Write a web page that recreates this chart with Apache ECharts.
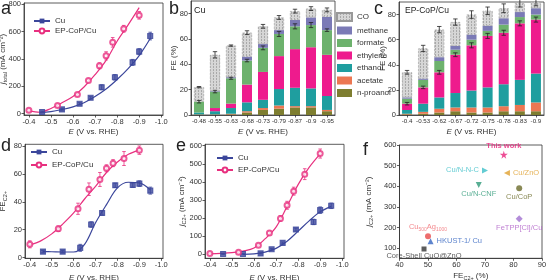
<!DOCTYPE html>
<html>
<head>
<meta charset="utf-8">
<script src="https://cdn.jsdelivr.net/npm/echarts@6/dist/echarts.min.js"></script>
<style>
html,body{margin:0;padding:0;background:#fff}
#main{width:546px;height:280px}
</style>
</head>
<body>
<div id="main"></div>
<script>
// ---- data ----
// a / d / e : potentials
const eCu = [-0.46, -0.55, -0.63, -0.68, -0.73, -0.79, -0.87, -0.90, -0.95]
const eEp = [-0.40, -0.53, -0.62, -0.67, -0.72, -0.75, -0.78, -0.83, -0.90]

// a: j total
const jTotCu = [12, 31, 72, 116, 193, 266, 375, 454, 568]
const jTotCuErr = [6, 6, 8, 8, 18, 20, 22, 22, 28]
const jTotEp = [24, 60, 140, 242, 350, 423, 522, 621, 720]
const jTotEpErr = [8, 10, 10, 10, 22, 30, 35, 25, 28]
const fitE_aCu = [-0.45, -0.5, -0.55, -0.6, -0.65, -0.7, -0.75, -0.8, -0.85, -0.9, -0.95]
const fitJ_aCu = [8, 15, 30, 50, 80, 125, 180, 250, 330, 425, 550]
const fitE_aEp = [-0.40, -0.45, -0.5, -0.55, -0.6, -0.65, -0.7, -0.75, -0.8, -0.85, -0.9]
const fitJ_aEp = [20, 10, 38, 80, 125, 195, 285, 390, 530, 650, 776]

// b: FE on Cu
const catB = ['-0.48', '-0.55', '-0.63', '-0.68', '-0.73', '-0.79', '-0.87', '-0.9', '-0.95']
const bNpro = [0.3, 0.3, 0.5, 2, 4, 5, 6, 6, 3]
const bAcet = [0.2, 0.2, 0.5, 1, 1.5, 2.5, 1, 1, 1]
const bEthanol = [1.5, 2.5, 4.5, 7, 6.5, 13, 14.5, 14, 11]
const bEthylene = [0, 2.5, 3.5, 14, 22, 26, 30.5, 32.5, 32.5]
const bFormate = [8.5, 13, 20, 19, 19, 17.5, 18, 17.5, 19.5]
const bMethane = [0, 0.5, 0.8, 3, 3, 3, 5, 6, 10.5]
const bCO = [11.5, 28.5, 25, 19, 14, 10, 7, 7, 5.5]
const bTotErr = [0.5, 2.5, 0.5, 1.5, 1.5, 1.5, 1.5, 1.5, 1.5]
const bFormErr = [1, 1, 0.8, 1, 1.5, 2, 2, 2, 1]

// c: FE on EP-CoP/Cu
const catC = ['-0.4', '-0.53', '-0.62', '-0.67', '-0.72', '-0.75', '-0.78', '-0.83', '-0.9']
const cNpro = [0.5, 1, 2, 3, 2, 2, 3, 3, 3]
const cAcet = [0.5, 1.5, 3, 3, 4, 4, 4, 5, 7]
const cEthanol = [3, 6.5, 9, 11.5, 13.5, 16, 17.5, 20, 23]
const cEthylene = [5, 13, 20, 30.5, 36, 41, 41, 45, 43]
const cFormate = [4, 6, 9, 4, 4.5, 4, 6.5, 5, 4]
const cMethane = [1, 1, 3, 3, 4, 4, 5, 4, 5]
const cCO = [20, 24, 22, 19, 16, 12, 8, 7, 5]
const cTotErr = [1.5, 2.5, 2.5, 2.5, 3, 3, 3.5, 3, 3]
const cEthyErr = [1, 1, 1.5, 1.5, 2, 2, 2, 2, 2]

// d: FE C2+
const fecCu = [4.3, 4.3, 7, 23.7, 32, 51.8, 52, 53, 48]
const fecCuErr = [0.8, 0.8, 2.5, 2, 1.5, 1.5, 1.5, 2, 2.5]
const fecEp = [9.5, 20.7, 35, 49, 56, 64, 67.7, 71, 77]
const fecEpErr = [2.5, 2, 4, 4.5, 5, 2.5, 2.5, 5, 3]
const fitE_dCu = [-0.46, -0.5, -0.55, -0.6, -0.65, -0.7, -0.75, -0.8, -0.85, -0.9, -0.95]
const fitF_dCu = [4.3, 4.2, 4.0, 4.0, 9.5, 25, 38, 50, 54, 53.5, 48.5]
const fitE_dEp = [-0.40, -0.45, -0.5, -0.55, -0.6, -0.65, -0.7, -0.75, -0.8, -0.85, -0.9]
const fitF_dEp = [9, 12, 17, 24, 32, 42, 51, 61, 68.5, 74, 77]

// e: j C2+
const jcCu = [2, 2, 5, 28, 63, 137, 179, 244, 268]
const jcCuErr = [2, 2, 3, 4, 5, 8, 15, 18, 15]
const jcEp = [5, 11, 50, 118, 198, 271, 349, 443, 557]
const jcEpErr = [3, 5, 5, 10, 15, 22, 22, 30, 25]
const fitE_eCu = [-0.55, -0.6, -0.65, -0.7, -0.75, -0.8, -0.85, -0.9, -0.95]
const fitJ_eCu = [0, 2, 12, 33, 72, 128, 185, 235, 265]
const fitE_eEp = [-0.40, -0.45, -0.5, -0.55, -0.6, -0.65, -0.7, -0.75, -0.8, -0.85, -0.9]
const fitJ_eEp = [3, 5, 9, 18, 35, 85, 150, 265, 385, 480, 555]

// f: comparison with literature
const refNames = ['This work', 'Cu/N-N-C', 'Cu/ZnO', 'Cu/N-CNF', 'Cu/CoP', 'FeTPP[Cl]/Cu', 'CuAg', 'HKUST-1/ Cu', 'Core-Shell CuO@ZnO']
const refFE = [76.6, 70.0, 77.7, 67.8, 82.0, 82.0, 50.0, 50.9, 48.6]
const refJ = [553, 477, 465, 407, 391, 243, 159, 135, 97]

// tick labels
const ticksE = [-0.4, -0.5, -0.6, -0.7, -0.8, -0.9, -1.0]
const ticksA = [0, 200, 400, 600, 800]
const ticksFE = [0, 20, 40, 60, 80]
const ticksE_j = [0, 100, 200, 300, 400, 500, 600]
const ticksF_x = [40, 50, 60, 70, 80, 90]
const ticksF_y = [100, 200, 300, 400, 500, 600]

// ---- styling ----
const FONT = 'Liberation Sans'
const AX = '#333'
const CU = '#3b469b'
const EP = '#e8307f'
const STAR = 'path://M50,0 L61,35 L98,35 L68,57 L79,91 L50,70 L21,91 L32,57 L2,35 L39,35 Z'

// dotted grey fill for CO
const pc = document.createElement('canvas')
pc.width = 3; pc.height = 3
const pctx = pc.getContext('2d')
pctx.fillStyle = '#d6d6d6'; pctx.fillRect(0, 0, 3, 3)
pctx.fillStyle = '#a9a9a9'; pctx.fillRect(0, 0, 1, 2)

const layerColors = {
  'n-proanol': '#7e7e30', acetate: '#ec7752', ethanol: '#1f9e9f', ethylene: '#ee1b8d',
  formate: '#6db26d', methane: '#7b7ab6', CO: { image: pc, repeat: 'repeat' }
}

const nameStyle = {
  fontSize: 8, fontFamily: FONT, color: AX, lineHeight: 11,
  rich: {
    i: { fontStyle: 'italic', fontSize: 8, fontFamily: FONT, color: AX, lineHeight: 11 },
    s: { fontSize: 5.5, fontFamily: FONT, color: AX, lineHeight: 6, verticalAlign: 'bottom' }
  }
}

function valAxis(gi, min, max, ticks, fmt, extra) {
  return Object.assign({
    type: 'value', gridIndex: gi, min: min, max: max,
    axisLine: { show: true, onZero: false, lineStyle: { color: AX, width: 0.8 } },
    axisTick: { show: true, length: 2.5, customValues: ticks, lineStyle: { color: AX, width: 0.8 } },
    axisLabel: { fontSize: 7.5, fontFamily: FONT, color: AX, margin: 3, customValues: ticks, formatter: fmt },
    splitLine: { show: false },
    nameLocation: 'middle', nameMoveOverlap: false, nameTextStyle: nameStyle
  }, extra || {})
}

function catAxis(gi, cats, extra) {
  return Object.assign({
    type: 'category', gridIndex: gi, data: cats,
    axisLine: { show: true, lineStyle: { color: AX, width: 0.8 } },
    axisTick: { show: true, length: 2.5, alignWithLabel: true, lineStyle: { color: AX, width: 0.8 } },
    axisLabel: { fontSize: 6.2, fontFamily: FONT, color: AX, margin: 3, interval: 0 },
    nameLocation: 'middle', nameMoveOverlap: false, nameTextStyle: nameStyle
  }, extra || {})
}

const fmtE = v => v.toFixed(1)
const fmtN = v => String(v)
const eName = '{i|E} (V vs. RHE)'

function errSeries(gi, xs, ys, es, color, cap) {
  return {
    type: 'custom', xAxisIndex: gi, yAxisIndex: gi, silent: true, z: 6,
    data: xs.map((x, i) => [x, ys[i], es[i]]),
    renderItem: (p, api) => {
      const x = api.value(0), y = api.value(1), e = api.value(2)
      const t = api.coord([x, y + e]), b = api.coord([x, y - e])
      const st = { stroke: color, lineWidth: 0.8 }
      return {
        type: 'group', children: [
          { type: 'line', shape: { x1: t[0], y1: t[1], x2: b[0], y2: b[1] }, style: st },
          { type: 'line', shape: { x1: t[0] - cap, y1: t[1], x2: t[0] + cap, y2: t[1] }, style: st },
          { type: 'line', shape: { x1: b[0] - cap, y1: b[1], x2: b[0] + cap, y2: b[1] }, style: st }
        ]
      }
    }
  }
}

function fitSeries(gi, name, xs, ys, color, symbol) {
  return {
    type: 'line', name: name, xAxisIndex: gi, yAxisIndex: gi,
    data: xs.map((x, i) => [x, ys[i]]), smooth: 0.35, showSymbol: false,
    symbol: symbol, symbolSize: 5, silent: true, z: 3,
    lineStyle: { color: color, width: 1.2 }, itemStyle: { color: color, borderWidth: 1.1 }
  }
}

function ptSeries(gi, xs, ys, color, symbol) {
  return {
    type: 'scatter', xAxisIndex: gi, yAxisIndex: gi, symbol: symbol, symbolSize: 5, z: 7,
    data: xs.map((x, i) => [x, ys[i]]),
    itemStyle: { color: color, borderColor: color, borderWidth: 1.1 }
  }
}

function curvePanel(gi, cuY, cuE, epY, epE, fitCu, fitEp) {
  return [
    fitSeries(gi, 'Cu', fitCu[0], fitCu[1], CU, 'rect'),
    fitSeries(gi, 'EP-CoP/Cu', fitEp[0], fitEp[1], EP, 'emptyCircle'),
    errSeries(gi, eCu, cuY, cuE, CU, 1.8),
    errSeries(gi, eEp, epY, epE, EP, 1.8),
    ptSeries(gi, eCu, cuY, CU, 'rect'),
    ptSeries(gi, eEp, epY, EP, 'emptyCircle')
  ]
}

function barPanel(gi, stack, layers) {
  const out = []
  const names = ['n-proanol', 'acetate', 'ethanol', 'ethylene', 'formate', 'methane', 'CO']
  names.forEach((n, k) => {
    const s = {
      type: 'bar', name: n, stack: stack, xAxisIndex: gi, yAxisIndex: gi,
      barWidth: 10, data: layers[k], itemStyle: { color: layerColors[n] }
    }
    if (n === 'CO') s.itemStyle = { color: layerColors[n], borderColor: '#999', borderWidth: 0.6, borderType: 'dashed' }
    out.push(s)
  })
  return out
}

function cum(layers, upto) {
  return layers[0].map((_, i) => {
    let s = 0
    for (let k = 0; k <= upto; k++) s += layers[k][i]
    return s
  })
}

const bLayers = [bNpro, bAcet, bEthanol, bEthylene, bFormate, bMethane, bCO]
const cLayers = [cNpro, cAcet, cEthanol, cEthylene, cFormate, cMethane, cCO]
const idx9 = catB.map((_, i) => i)

// f points
const refStyle = {
  'This work': { symbol: STAR, size: 8, color: '#e8207a', pos: 'top', dist: 1, bold: true },
  'Cu/N-N-C': { symbol: 'triangle', rot: -90, size: 6, color: '#3cbfc8', pos: 'left', dist: 3 },
  'Cu/ZnO': { symbol: 'triangle', rot: 90, size: 6, color: '#e0a030', pos: 'right', dist: 3 },
  'Cu/N-CNF': { symbol: 'triangle', rot: 180, size: 6, color: '#2e9a78', pos: 'bottom', dist: 2 },
  'Cu/CoP': { symbol: 'circle', size: 6, color: '#6b6b2b', pos: 'bottom', dist: 2 },
  'FeTPP[Cl]/Cu': { symbol: 'diamond', size: 7, color: '#a070d0', lcolor: '#b060c8', pos: 'bottom', dist: 2 },
  'CuAg': { symbol: 'circle', size: 6, color: '#e84848', lcolor: '#f06a70', pos: 'top', dist: 1 },
  'HKUST-1/ Cu': { symbol: 'triangle', size: 6, color: '#3465c0', pos: 'right', dist: 3 },
  'Core-Shell CuO@ZnO': { symbol: 'rect', size: 5, color: '#333', pos: 'bottom', dist: 0 }
}
const fData = refNames.map((n, i) => {
  const st = refStyle[n]
  return {
    name: n, value: [refFE[i], refJ[i]], symbol: st.symbol, symbolSize: st.size,
    symbolRotate: st.rot || 0,
    itemStyle: { color: st.color },
    label: {
      show: true, position: st.pos, distance: st.dist, fontSize: 7.5, fontFamily: FONT,
      color: st.lcolor || st.color, fontWeight: st.bold ? 'bold' : 'normal',
      formatter: n === 'CuAg' ? '{a|Cu}{s|500}{a|Ag}{s|1000}' : n,
      rich: {
        a: { fontSize: 7.5, fontFamily: FONT, color: st.lcolor || st.color, lineHeight: 10 },
        s: { fontSize: 5, fontFamily: FONT, color: st.lcolor || st.color, lineHeight: 5, verticalAlign: 'bottom' }
      }
    }
  }
})

const gridBase = { show: true, borderColor: AX, borderWidth: 0.8, backgroundColor: 'transparent', containLabel: false, outerBoundsMode: 'none' }
const legText = { fontSize: 8, fontFamily: FONT, color: AX }

const option = {
  animation: false,
  textStyle: { fontFamily: FONT },
  grid: [
    Object.assign({ left: 24, top: 3, width: 139, height: 112 }, gridBase),
    Object.assign({ left: 191, top: 1, width: 144, height: 114 }, gridBase),
    Object.assign({ left: 399, top: 2, width: 145, height: 113 }, gridBase),
    Object.assign({ left: 25, top: 144.3, width: 138, height: 114 }, gridBase),
    Object.assign({ left: 205, top: 144.3, width: 139, height: 114 }, gridBase),
    Object.assign({ left: 399.5, top: 145, width: 142.5, height: 113.3 }, gridBase)
  ],
  xAxis: [
    valAxis(0, -1.008, -0.378, ticksE, fmtE, { inverse: true, name: eName, nameGap: 11 }),
    catAxis(1, catB, { name: eName, nameGap: 11 }),
    catAxis(2, catC, { name: eName, nameGap: 11 }),
    valAxis(3, -1.008, -0.378, ticksE, fmtE, { inverse: true, name: eName, nameGap: 14 }),
    valAxis(4, -1.008, -0.378, ticksE, fmtE, { inverse: true, name: eName, nameGap: 14 }),
    valAxis(5, 40, 90, ticksF_x, fmtN, { name: 'FE{s|C2+} (%)', nameGap: 12 })
  ],
  yAxis: [
    valAxis(0, -10, 810, ticksA, fmtN, { name: '{i|j}{s|total} (mA cm⁻²)', nameGap: 16 }),
    valAxis(1, 0, 90, ticksFE, fmtN, { name: 'FE (%)', nameGap: 12 }),
    valAxis(2, 0, 90, ticksFE, fmtN, { name: 'FE (%)', nameGap: 11 }),
    valAxis(3, -0.5, 81.2, ticksFE, fmtN, { name: 'FE{s|C2+}', nameGap: 17 }),
    valAxis(4, -22, 608, ticksE_j, fmtN, { name: '{i|j}{s|C2+} (mA cm⁻²)', nameGap: 18 }),
    valAxis(5, 52, 600, ticksF_y, fmtN, { name: '{i|j}{s|C2+} (mA cm⁻²)', nameGap: 25 })
  ],
  legend: [
    { data: ['Cu', 'EP-CoP/Cu'], orient: 'vertical', left: 33, top: 17, padding: 0,
      itemWidth: 16, itemHeight: 6, itemGap: 2, textStyle: legText },
    { data: ['Cu', 'EP-CoP/Cu'], orient: 'vertical', left: 30, top: 148, padding: 0,
      itemWidth: 16, itemHeight: 6, itemGap: 5, textStyle: legText },
    { data: ['Cu', 'EP-CoP/Cu'], orient: 'vertical', left: 216, top: 154, padding: 0,
      itemWidth: 16, itemHeight: 6, itemGap: 4, textStyle: legText },
    { data: ['CO', 'methane', 'formate', 'ethylene', 'ethanol', 'acetate', 'n-proanol'], orient: 'vertical',
      left: 336, top: 12, padding: 0, itemWidth: 15, itemHeight: 8, itemGap: 4.5, icon: 'rect',
      textStyle: legText }
  ],
  graphic: [
    { type: 'text', left: 1, top: 0, style: { text: 'a', fontSize: 18, fontFamily: FONT, fill: '#222' } },
    { type: 'text', left: 169, top: 0, style: { text: 'b', fontSize: 18, fontFamily: FONT, fill: '#222' } },
    { type: 'text', left: 374, top: 0, style: { text: 'c', fontSize: 18, fontFamily: FONT, fill: '#222' } },
    { type: 'text', left: 1, top: 137, style: { text: 'd', fontSize: 18, fontFamily: FONT, fill: '#222' } },
    { type: 'text', left: 176, top: 137, style: { text: 'e', fontSize: 18, fontFamily: FONT, fill: '#222' } },
    { type: 'text', left: 363, top: 141, style: { text: 'f', fontSize: 18, fontFamily: FONT, fill: '#222' } },
    { type: 'text', left: 194, top: 6, style: { text: 'Cu', fontSize: 9, fontFamily: FONT, fill: '#222' } },
    { type: 'text', left: 405, top: 6, style: { text: 'EP-CoP/Cu', fontSize: 8.5, fontFamily: FONT, fill: '#222' } }
  ],
  series: [].concat(
    curvePanel(0, jTotCu, jTotCuErr, jTotEp, jTotEpErr, [fitE_aCu, fitJ_aCu], [fitE_aEp, fitJ_aEp]),
    barPanel(1, 'b', bLayers),
    [errSeries(1, idx9, cum(bLayers, 6), bTotErr, '#222', 2.2),
     errSeries(1, idx9, cum(bLayers, 4), bFormErr, '#222', 2.2)],
    barPanel(2, 'c', cLayers),
    [errSeries(2, idx9, cum(cLayers, 6), cTotErr, '#222', 2.2),
     errSeries(2, idx9, cum(cLayers, 3), cEthyErr, '#222', 2.2)],
    curvePanel(3, fecCu, fecCuErr, fecEp, fecEpErr, [fitE_dCu, fitF_dCu], [fitE_dEp, fitF_dEp]),
    curvePanel(4, jcCu, jcCuErr, jcEp, jcEpErr, [fitE_eCu, fitJ_eCu], [fitE_eEp, fitJ_eEp]),
    [{ type: 'scatter', xAxisIndex: 5, yAxisIndex: 5, data: fData, z: 7 }]
  )
}

const chart = echarts.init(document.getElementById('main'), null, { renderer: 'canvas' })
chart.setOption(option)
</script>
</body>
</html>
